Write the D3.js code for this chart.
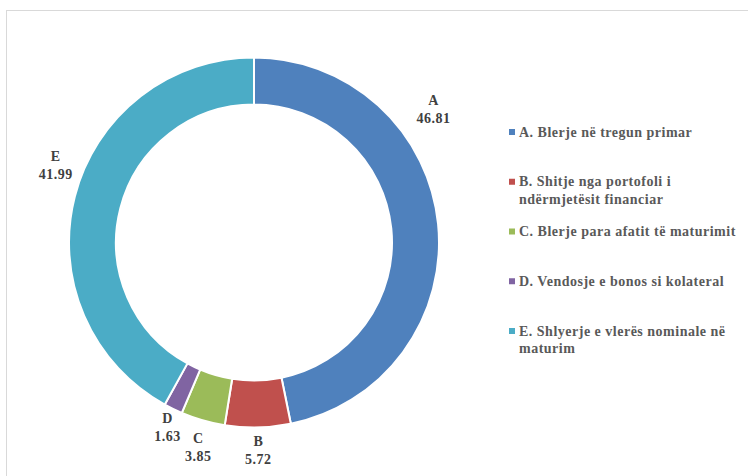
<!DOCTYPE html>
<html>
<head>
<meta charset="utf-8">
<script src="https://cdn.jsdelivr.net/npm/d3@7"></script>
<style>
  html, body { margin: 0; padding: 0; background: #fff; }
  svg { display: block; }
</style>
</head>
<body>
<div id="chart"></div>
<script>
const categories = ["A", "B", "C", "D", "E"];
const values = [46.81, 5.72, 3.85, 1.63, 41.99];
const legendLabels = [
  ["A. Blerje në tregun primar"],
  ["B. Shitje nga portofoli i", "ndërmjetësit financiar"],
  ["C. Blerje para afatit të maturimit"],
  ["D. Vendosje e bonos si kolateral"],
  ["E. Shlyerje e vlerës nominale në", "maturim"],
];
const colors = ["#4f81bd", "#c0504d", "#9bbb59", "#8064a2", "#4bacc6"];
// label placement tweaks (degrees shift from slice middle, radius)
const labelAngleShift = [-31, 0, -0.8, -0.8, 7];
const labelRadius = [224, 208, 212, 204, 213];

const WIDTH = 748;
const HEIGHT = 476;
const CX = 254;
const CY = 242.5;
const OUTER_R = 185;
const INNER_R = 138;
const LABEL_FONT = "'Liberation Serif', 'Times New Roman', serif";

const svg = d3
  .select("#chart")
  .append("svg")
  .attr("width", WIDTH)
  .attr("height", HEIGHT)
  .attr("viewBox", [0, 0, WIDTH, HEIGHT]);

svg
  .append("rect")
  .attr("x", 6.5)
  .attr("y", 10.5)
  .attr("width", 900)
  .attr("height", 600)
  .attr("fill", "#fff")
  .attr("stroke", "#d9d9d9")
  .attr("stroke-width", 1);

const slices = d3
  .pie()
  .sort(null)
  .value((d) => d.value)(
  categories.map((name, i) => ({ name, value: values[i], i }))
);

const arc = d3.arc().innerRadius(INNER_R).outerRadius(OUTER_R);

const donut = svg.append("g").attr("transform", `translate(${CX},${CY})`);

donut
  .selectAll("path")
  .data(slices)
  .join("path")
  .attr("d", arc)
  .attr("fill", (d) => colors[d.data.i])
  .attr("stroke", "#fff")
  .attr("stroke-width", 2)
  .attr("stroke-linejoin", "round");

const labels = donut
  .selectAll("text.slice-label")
  .data(slices)
  .join("text")
  .attr("class", "slice-label")
  .attr("text-anchor", "middle")
  .attr("font-family", LABEL_FONT)
  .attr("font-weight", "bold")
  .attr("font-size", 14)
  .attr("letter-spacing", 0.5)
  .attr("fill", "#404040")
  .attr("transform", (d) => {
    const a =
      (d.startAngle + d.endAngle) / 2 +
      (labelAngleShift[d.data.i] * Math.PI) / 180;
    const r = labelRadius[d.data.i];
    return `translate(${r * Math.sin(a)},${-r * Math.cos(a)})`;
  });

labels
  .append("tspan")
  .attr("x", 0)
  .attr("y", -4)
  .text((d) => d.data.name);
labels
  .append("tspan")
  .attr("x", 0)
  .attr("y", 14)
  .text((d) => d3.format(".2f")(d.data.value));

const legendY = d3
  .scalePoint()
  .domain(categories)
  .range([132, 331]);

const legend = svg
  .append("g")
  .selectAll("g")
  .data(categories)
  .join("g")
  .attr("transform", (d) => `translate(509,${legendY(d)})`);

legend
  .append("rect")
  .attr("x", 0)
  .attr("y", -3)
  .attr("width", 6)
  .attr("height", 6)
  .attr("fill", (d, i) => colors[i]);

legend
  .append("text")
  .attr("font-family", LABEL_FONT)
  .attr("font-weight", "bold")
  .attr("font-size", 14)
  .attr("letter-spacing", 0.5)
  .attr("fill", "#595959")
  .selectAll("tspan")
  .data((d, i) => legendLabels[i])
  .join("tspan")
  .attr("x", 10)
  .attr("y", (d, j) => 4.5 + j * 17.5)
  .text((d) => d);
</script>
</body>
</html>
